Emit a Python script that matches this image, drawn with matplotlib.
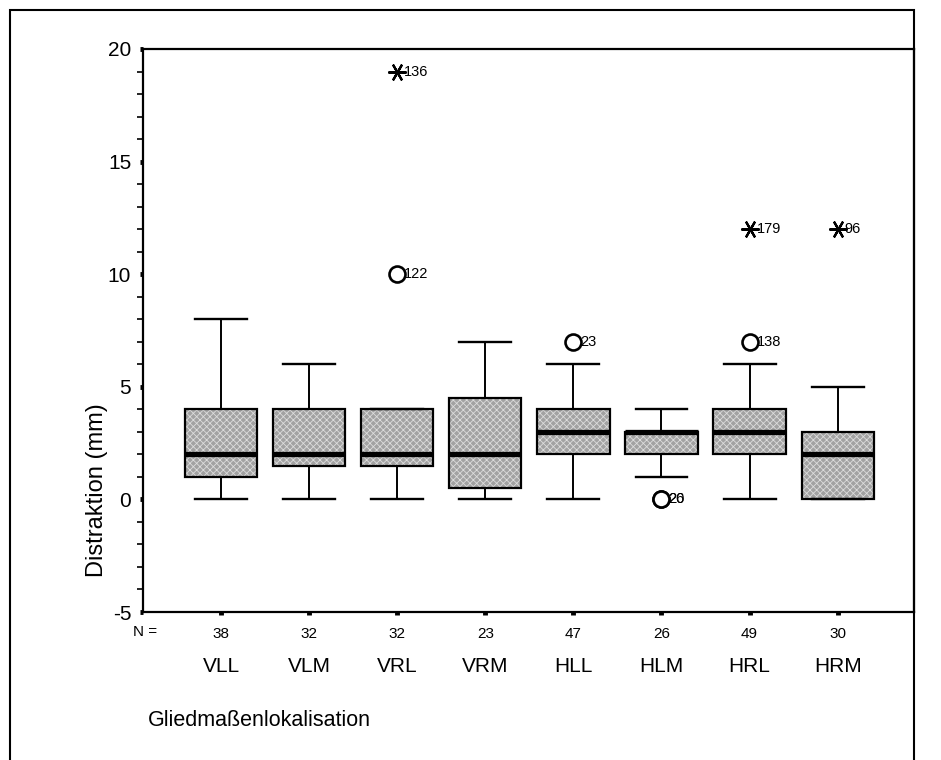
import numpy as np
import matplotlib.pyplot as plt
from matplotlib.patches import PathPatch, Rectangle
from matplotlib.ticker import MultipleLocator
import matplotlib.transforms as mtrans

plt.rcParams['font.family'] = ['Liberation Sans', 'DejaVu Sans']
plt.rcParams['hatch.linewidth'] = 0.6
plt.rcParams['axes.unicode_minus'] = False

# data
cats = ['VLL', 'VLM', 'VRL', 'VRM', 'HLL', 'HLM', 'HRL', 'HRM']
n_cases = [38, 32, 32, 23, 47, 26, 49, 30]
whis_lo = [0, 0, 0, 0, 0, 1, 0, 0]
q1 = [1, 1.5, 1.5, 0.5, 2, 2, 2, 0]
med = [2, 2, 2, 2, 3, 3, 3, 2]
q3 = [4, 4, 4, 4.5, 4, 3, 4, 3]
whis_hi = [8, 6, 4, 7, 6, 4, 6, 5]

# outliers (circles) and extremes (stars): category no., value, case label
out_pos = [3, 5, 6, 6, 7]
out_val = [10, 7, 0, 0, 7]
out_lab = ['122', '23', '20', '26', '138']
ext_pos = [3, 7, 8]
ext_val = [19, 12, 12]
ext_lab = ['136', '179', '96']

pos = np.arange(1, len(cats) + 1)

fig = plt.figure(figsize=(9.41, 7.6), dpi=100)
ax = fig.add_axes([143/941, 1-612/760, (914-143)/941, (612-49)/760])

stats = []
for i in range(len(cats)):
    stats.append(dict(whislo=whis_lo[i], q1=q1[i], med=med[i], q3=q3[i],
                      whishi=whis_hi[i], fliers=[]))

res = ax.bxp(stats, positions=pos, widths=0.82, capwidths=0.59,
             patch_artist=True, showfliers=False,
             medianprops=dict(color='black', linewidth=3.8, solid_capstyle='butt'),
             whiskerprops=dict(color='black', linewidth=1.4),
             capprops=dict(color='black', linewidth=1.7))

for b in res['boxes']:
    b.set_facecolor('#a2a2a2')
    b.set_edgecolor('#dcdcdc')
    b.set_hatch('xxxxx')
    b.set_linewidth(0)
    ax.add_patch(PathPatch(b.get_path(), facecolor='none', edgecolor='black',
                           linewidth=1.6, zorder=2.05))

ax.plot(out_pos, out_val, linestyle='none', marker='o', markersize=11.5,
        markerfacecolor='white', markeredgecolor='black', markeredgewidth=1.9, zorder=3)
ax.plot(ext_pos, ext_val, linestyle='none', marker=(6, 2, 90), markersize=13,
        markeredgecolor='black', markeredgewidth=1.6, zorder=3)
for p, v, l in zip(out_pos, out_val, out_lab):
    ax.annotate(l, (p, v), xytext=(5, 0), textcoords='offset points',
                ha='left', va='center', fontsize=10.5)
for p, v, l in zip(ext_pos, ext_val, ext_lab):
    ax.annotate(l, (p, v), xytext=(5, 0), textcoords='offset points',
                ha='left', va='center', fontsize=10.5)

ax.set_xlim(0.115, 8.866)
ax.set_ylim(-5, 20)
ax.yaxis.set_major_locator(MultipleLocator(5))
ax.yaxis.set_minor_locator(MultipleLocator(1))
ax.tick_params(axis='y', which='major', direction='out', length=2.5, width=3.5,
               labelsize=15, pad=6)
ax.tick_params(axis='y', which='minor', direction='out', length=4.5, width=1.2)
ax.set_xticks(pos, labels=[str(n) for n in n_cases])
ax.tick_params(axis='x', which='major', direction='out', length=2.5, width=3.5,
               labelsize=11, pad=8)
for s in ax.spines.values():
    s.set_linewidth(1.6)

trans = mtrans.blended_transform_factory(ax.transData, fig.transFigure)
for p, c in zip(pos, cats):
    ax.text(p, 1 - 667/760, c, transform=trans, ha='center', va='center', fontsize=15)

fig.text(145/941, 1 - 632/760, 'N =', ha='center', va='center', fontsize=11)
fig.text(97/941, 1 - 490/760, 'Distraktion (mm)', rotation=90,
         ha='center', va='center', fontsize=17)
fig.text(148/941, 1 - 721/760, 'Gliedmaßenlokalisation', ha='left', va='center',
         fontsize=15.5)

fig.add_artist(Rectangle((10/941, -0.1), (914-10)/941, 1.1 - 10/760,
                         transform=fig.transFigure, fill=False,
                         edgecolor='black', linewidth=1.5, clip_on=False))

fig.savefig('out.png', dpi=100)
